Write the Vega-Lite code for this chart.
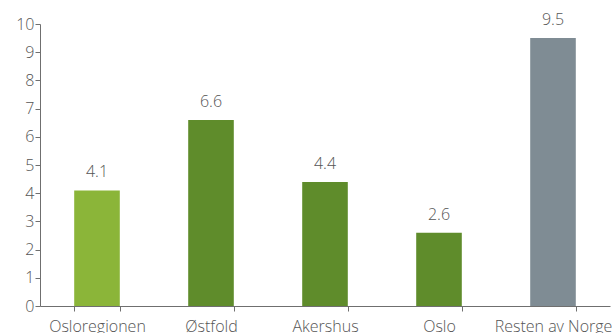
{
  "$schema": "https://vega.github.io/schema/vega-lite/v6.json",
  "width": 570,
  "height": 282,
  "autosize": "none",
  "padding": {"left": 40, "top": 24, "right": 5, "bottom": 27},
  "background": "white",
  "config": {
    "view": {"stroke": null},
    "font": "Open Sans",
    "axis": {
      "labelFont": "Open Sans",
      "labelFontWeight": 300,
      "labelFontSize": 16,
      "labelColor": "#555555",
      "domainColor": "#6f6f6f",
      "tickColor": "#6f6f6f",
      "tickSize": 5,
      "grid": false,
      "title": null
    }
  },
  "data": {
    "values": [
      {"region": "Osloregionen", "value": 4.1, "group": "a"},
      {"region": "Østfold", "value": 6.6, "group": "b"},
      {"region": "Akershus", "value": 4.4, "group": "b"},
      {"region": "Oslo", "value": 2.6, "group": "b"},
      {"region": "Resten av Norge", "value": 9.5, "group": "c"}
    ]
  },
  "encoding": {
    "x": {
      "field": "region",
      "type": "nominal",
      "sort": null,
      "scale": {"paddingInner": 0.6, "paddingOuter": 0.3},
      "axis": {"labelAngle": 0, "tickBand": "extent", "labelPadding": 7, "labelOverlap": false}
    },
    "y": {
      "field": "value",
      "type": "quantitative",
      "scale": {"domain": [0, 10], "nice": false},
      "axis": {"values": [0,1,2,3,4,5,6,7,8,9,10], "labelPadding": 1}
    }
  },
  "layer": [
    {
      "mark": {"type": "bar"},
      "encoding": {
        "color": {
          "field": "group",
          "type": "nominal",
          "scale": {"domain": ["a", "b", "c"], "range": ["#8bb539", "#5f8c2b", "#7f8c94"]},
          "legend": null
        }
      }
    },
    {
      "mark": {"type": "text", "baseline": "alphabetic", "dy": -13, "font": "Open Sans", "fontSize": 16, "fontWeight": 300, "color": "#555555"},
      "encoding": {
        "text": {"field": "value", "type": "quantitative", "format": ".1f"}
      }
    }
  ]
}
